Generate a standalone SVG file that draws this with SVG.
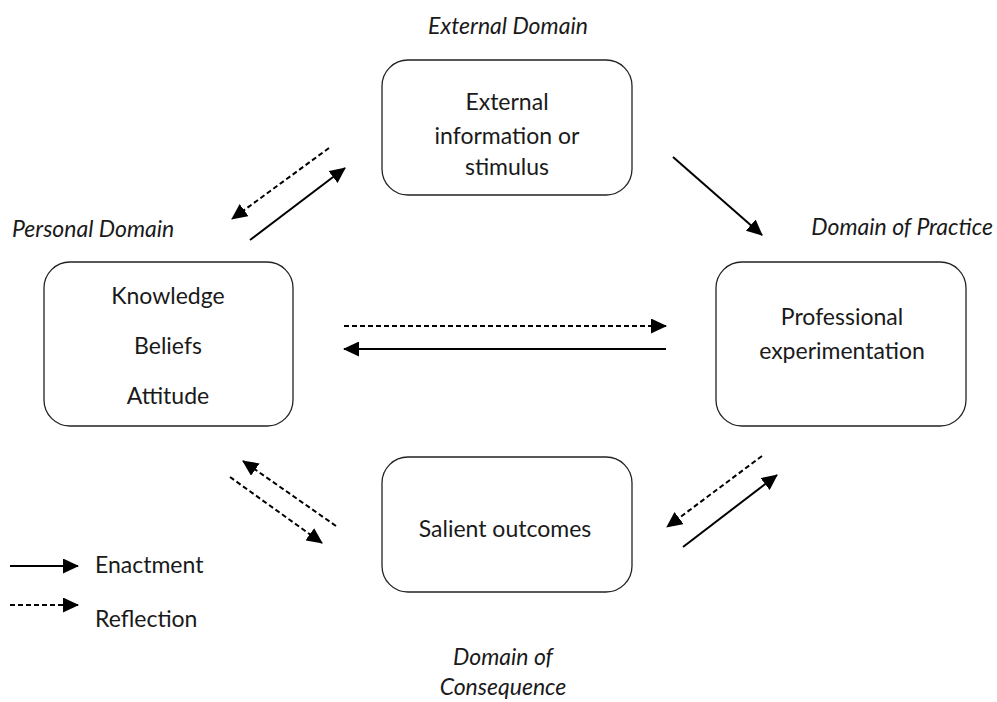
<svg xmlns="http://www.w3.org/2000/svg" width="997" height="702" viewBox="0 0 997 702">
<style>
text{font-family:Lato,"Open Sans","Liberation Sans",sans-serif;font-size:23px;fill:#1a1a1a}
.it{font-style:italic}
.box{fill:#fff;stroke:#222;stroke-width:1.3}
.s{stroke:#000;stroke-width:2;fill:none;marker-end:url(#ah)}
.d{stroke:#000;stroke-width:2;fill:none;stroke-dasharray:5,3;marker-end:url(#ah)}
</style>
<defs>
<marker id="ah" markerUnits="userSpaceOnUse" markerWidth="17" markerHeight="15" refX="15" refY="7.5" orient="auto">
<path d="M0,0 L16,7.5 L0,15 Z" fill="#000"/>
</marker>
</defs>
<rect width="997" height="702" fill="#fff"/>
<g id="labels">
<text class="it" x="508" y="34" text-anchor="middle">External Domain</text>
<text class="it" x="12" y="237">Personal Domain</text>
<text class="it" x="993" y="235" text-anchor="end">Domain of Practice</text>
<text class="it" x="503" y="665" text-anchor="middle">Domain of</text>
<text class="it" x="503" y="695" text-anchor="middle">Consequence</text>
</g>
<g id="external">
<rect class="box" x="382" y="60" width="250" height="135" rx="26"/>
<text x="507" y="110" text-anchor="middle">External</text>
<text x="507" y="144" text-anchor="middle">information or</text>
<text x="507" y="175" text-anchor="middle">stimulus</text>
</g>
<g id="personal">
<rect class="box" x="44" y="262" width="249" height="164" rx="26"/>
<text x="168" y="304" text-anchor="middle">Knowledge</text>
<text x="168" y="354" text-anchor="middle">Beliefs</text>
<text x="168" y="404" text-anchor="middle">Attitude</text>
</g>
<g id="practice">
<rect class="box" x="716" y="262" width="250" height="164" rx="26"/>
<text x="842" y="325" text-anchor="middle">Professional</text>
<text x="842" y="359" text-anchor="middle">experimentation</text>
</g>
<g id="salient">
<rect class="box" x="382" y="457" width="250" height="135" rx="26"/>
<text x="505" y="537" text-anchor="middle">Salient outcomes</text>
</g>
<g id="connectors">
<line class="d" x1="329" y1="148" x2="232" y2="219"/>
<line class="s" x1="250" y1="240" x2="345" y2="168"/>
<line class="s" x1="673" y1="157" x2="762" y2="235"/>
<line class="d" x1="344" y1="326" x2="666" y2="326"/>
<line class="s" x1="666" y1="349" x2="344" y2="349"/>
<line class="d" x1="336" y1="526" x2="243" y2="461"/>
<line class="d" x1="230" y1="477" x2="322" y2="543"/>
<line class="d" x1="762" y1="456" x2="667" y2="527"/>
<line class="s" x1="683" y1="547" x2="777" y2="475"/>
</g>
<g id="legend">
<line class="s" x1="10" y1="566" x2="78" y2="566"/>
<line class="d" x1="10" y1="605" x2="78" y2="605"/>
<text x="95" y="573">Enactment</text>
<text x="95" y="627">Reflection</text>
</g>
</svg>
